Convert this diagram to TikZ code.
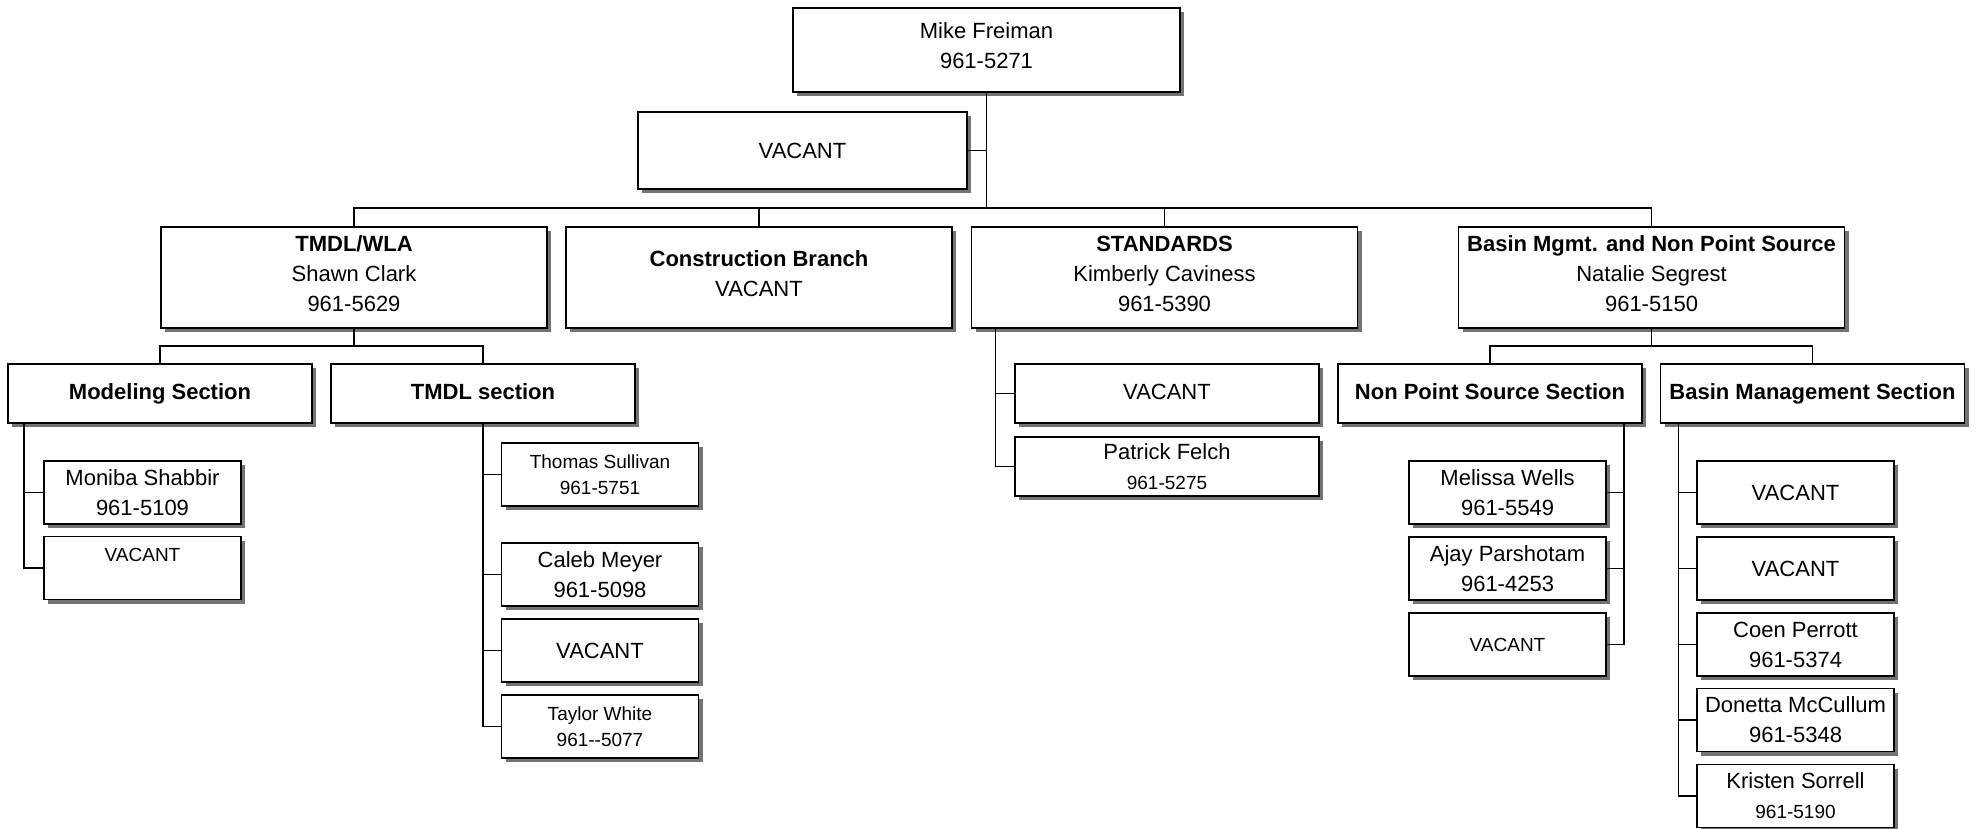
\documentclass[tikz,border=0pt]{standalone}
\usepackage{fontspec}
\setmainfont{Liberation Sans}
\usetikzlibrary{shadows}
\newcommand{\smalltxt}{\fontsize{9.5}{13}\selectfont}

\begin{document}
\begin{tikzpicture}[x=0.5pt,y=-0.5pt]
  \tikzstyle{box}=[draw=black, line width=0.9pt, fill=white, inner sep=1pt, align=center,
    drop shadow={shadow xshift=2pt, shadow yshift=-2pt, fill=black!55, opacity=1},
    font=\fontsize{11}{15}\selectfont]
  \tikzstyle{chief}=[box, minimum width=193.5pt, minimum height=42pt, text depth=4pt]
  \tikzstyle{branch}=[box, minimum width=193pt, minimum height=50.5pt, text depth=4pt]
  \tikzstyle{section}=[box, minimum width=152pt, minimum height=29.5pt]
  \tikzstyle{title}=[section, text height=8pt, text depth=2.5pt]
  \tikzstyle{member}=[box, minimum width=98.5pt, minimum height=31.5pt]
  \tikzstyle{link}=[line width=0.7pt]

  \useasboundingbox (0,0) rectangle (1979,829);

  \node[chief] (Boss) at (986.5,50) {Mike Freiman\\961-5271}; % Top box
  \node[box, minimum width=164.5pt, minimum height=38.5pt] (Asst) at (802.5,150.5) {VACANT}; % Staff box

  \node[branch] (TW) at (354,277.5) {\textbf{TMDL/WLA}\\Shawn Clark\\961-5629};
  \node[branch] (CB) at (759,277.5) {\textbf{Construction Branch}\\VACANT};
  \node[branch] (ST) at (1164.5,277.5) {\textbf{STANDARDS}\\Kimberly Caviness\\961-5390};
  \node[branch] (BN) at (1651.5,277.5) {\textbf{Basin Mgmt. and Non Point Source}\\Natalie Segrest\\961-5150};

  \node[title] (MS) at (160,393.5) {\textbf{Modeling Section}};
  \node[title] (TS) at (483,393.5) {\textbf{TMDL section}};
  \node[title] (SV) at (1167,393.5) {VACANT};
  \node[section] (PF) at (1167,466.5) {Patrick Felch\\\smalltxt 961-5275};
  \node[title] (NS) at (1490,393.5) {\textbf{Non Point Source Section}};
  \node[title] (BS) at (1812.5,393.5) {\textbf{Basin Management Section}};

  \node[member] (M1) at (142.5,492.5) {Moniba Shabbir\\961-5109}; % Modeling staff
  \node[member, font=\smalltxt, text depth=13pt] (M2) at (142.5,568) {VACANT};

  \node[member, font=\smalltxt] (T1) at (600,474.5) {Thomas Sullivan\\961-5751}; % TMDL staff
  \node[member] (T2) at (600,574.5) {Caleb Meyer\\961-5098};
  \node[member] (T3) at (600,650.5) {VACANT};
  \node[member, font=\smalltxt] (T4) at (600,726.5) {Taylor White\\961-{}-5077};

  \node[member] (N1) at (1507.5,492.5) {Melissa Wells\\961-5549}; % Non point source staff
  \node[member] (N2) at (1507.5,568.5) {Ajay Parshotam\\961-4253};
  \node[member, font=\smalltxt] (N3) at (1507.5,644.5) {VACANT};

  \node[member] (B1) at (1795.5,492.5) {VACANT}; % Basin management staff
  \node[member] (B2) at (1795.5,568.5) {VACANT};
  \node[member] (B3) at (1795.5,644.5) {Coen Perrott\\961-5374};
  \node[member] (B4) at (1795.5,720) {Donetta McCullum\\961-5348};
  \node[member] (B5) at (1795.5,796) {Kristen Sorrell\\\smalltxt 961-5190};

  % Top level lines
  \coordinate (Bus) at (986.5,208);
  \draw[link] (Boss.south) -- (Bus);
  \draw[link] (Asst.east) -- (Asst.east -| Boss.south);
  \draw[link] (TW.north) |- (Bus) -| (BN.north);
  \draw[link] (CB.north) -- (CB.north |- Bus);
  \draw[link] (ST.north) -- (ST.north |- Bus);

  % Section lines
  \coordinate (TWbus) at (354,346);
  \draw[link] (TW.south) -- (TWbus);
  \draw[link] (MS.north) |- (TWbus) -| (TS.north);
  \coordinate (BNbus) at (1651.5,346);
  \draw[link] (BN.south) -- (BNbus);
  \draw[link] (NS.north) |- (BNbus) -| (BS.north);

  % Standards staff
  \coordinate (STline) at ([xshift=12.5pt]ST.south west);
  \draw[link] (STline) |- (PF.west);
  \draw[link] (SV.west) -- (SV.west -| STline);

  % Modeling staff
  \coordinate (MSline) at ([xshift=8.5pt]MS.south west);
  \draw[link] (MSline) |- (M2.west);
  \draw[link] (M1.west) -- (M1.west -| MSline);

  % TMDL staff
  \draw[link] (TS.south) |- (T4.west);
  \draw[link] (T1.west) -- (T1.west -| TS.south);
  \draw[link] (T2.west) -- (T2.west -| TS.south);
  \draw[link] (T3.west) -- (T3.west -| TS.south);

  % Non point source staff
  \coordinate (NSline) at ([xshift=-9.5pt]NS.south east);
  \draw[link] (NSline) |- (N3.east);
  \draw[link] (N1.east) -- (N1.east -| NSline);
  \draw[link] (N2.east) -- (N2.east -| NSline);

  % Basin management staff
  \coordinate (BSline) at ([xshift=9.5pt]BS.south west);
  \draw[link] (BSline) |- (B5.west);
  \draw[link] (B1.west) -- (B1.west -| BSline);
  \draw[link] (B2.west) -- (B2.west -| BSline);
  \draw[link] (B3.west) -- (B3.west -| BSline);
  \draw[link] (B4.west) -- (B4.west -| BSline);
\end{tikzpicture}
\end{document}
